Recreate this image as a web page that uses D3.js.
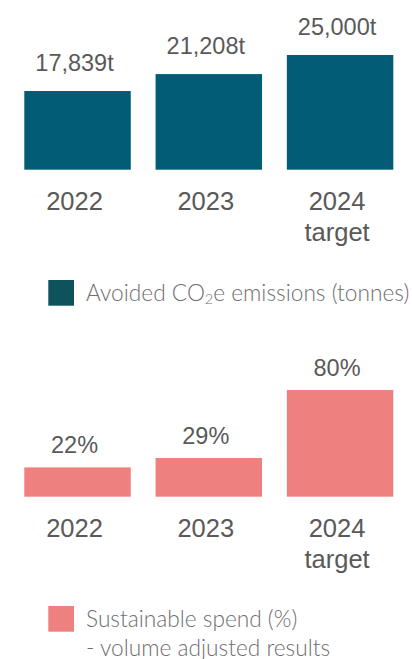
<!DOCTYPE html>
<html>
<head>
<meta charset="utf-8">
<script src="https://cdn.jsdelivr.net/npm/d3@7"></script>
<style>
  html, body { margin: 0; padding: 0; background: #ffffff; }
  svg { display: block; }
</style>
</head>
<body>
<svg id="chart" width="412" height="659"></svg>
<script>
// Categories shared by both panels
const years = ["2022", "2023", "2024"];
const yearSubLabels = ["", "", "target"];

// Avoided CO2e emissions (tonnes)
const emissionValues = [17839, 21208, 25000];
const emissionLabels = ["17,839t", "21,208t", "25,000t"];

// Sustainable spend (%)
const spendValues = [22, 29, 80];
const spendLabels = ["22%", "29%", "80%"];

const svg = d3.select("#chart");

const labelFont = "'Liberation Sans', Arial, sans-serif";
const legendFont = "Lato, 'Open Sans', sans-serif";
const labelColor = "#595959";
const legendColor = "#6e6e6e";
const legendSize = 22.7;

const x = d3.scaleBand()
  .domain(years)
  .range([24.3, 393.3])
  .paddingInner(0.189)
  .paddingOuter(0);

function panel(opts) {
  const g = svg.append("g");
  const y = d3.scaleLinear().domain(opts.domain).range([opts.baseline, opts.top]);
  const rows = years.map((yr, i) => ({ yr, v: opts.values[i], lab: opts.labels[i], sub: yearSubLabels[i] }));

  g.selectAll("rect.bar").data(rows).join("rect")
    .attr("class", "bar")
    .attr("x", d => x(d.yr))
    .attr("width", x.bandwidth())
    .attr("y", d => y(d.v))
    .attr("height", d => opts.baseline - y(d.v))
    .attr("fill", opts.color);

  const cx = d => x(d.yr) + x.bandwidth() / 2 - 3;

  g.selectAll("text.value").data(rows).join("text")
    .attr("class", "value")
    .attr("x", cx)
    .attr("y", d => y(d.v) - opts.labelGap)
    .attr("text-anchor", "middle")
    .attr("font-family", labelFont)
    .attr("font-size", 23.5)
    .attr("fill", labelColor)
    .text(d => d.lab);

  g.selectAll("text.year").data(rows).join("text")
    .attr("class", "year")
    .attr("x", cx)
    .attr("y", opts.baseline + 40.5)
    .attr("text-anchor", "middle")
    .attr("font-family", labelFont)
    .attr("font-size", 25.5)
    .attr("fill", labelColor)
    .text(d => d.yr);

  g.selectAll("text.sub").data(rows.filter(d => d.sub)).join("text")
    .attr("class", "sub")
    .attr("x", cx)
    .attr("y", opts.baseline + 71.5)
    .attr("text-anchor", "middle")
    .attr("font-family", labelFont)
    .attr("font-size", 25.5)
    .attr("fill", labelColor)
    .text(d => d.sub);

  // Legend swatch
  const lg = svg.append("g");
  lg.append("rect")
    .attr("x", 48.3).attr("y", opts.legendY)
    .attr("width", 25.7).attr("height", 25.7)
    .attr("fill", opts.legendColor);
  return lg;
}

function legendText(g, yPos) {
  return g.append("text")
    .attr("x", 86).attr("y", yPos)
    .attr("font-family", legendFont)
    .attr("font-weight", 300)
    .attr("font-size", legendSize)
    .attr("fill", legendColor);
}

// Top panel: avoided emissions
const lg1 = panel({
  values: emissionValues, labels: emissionLabels,
  domain: [2200, 25000], baseline: 169.7, top: 55,
  color: "#035c75", legendColor: "#0e525c",
  labelGap: 20, legendY: 280
});
const t1 = legendText(lg1, 301);
t1.append("tspan").text("Avoided CO");
t1.append("tspan").attr("font-size", 14.5).attr("dy", 3).text("2");
t1.append("tspan").attr("dy", -3).text("e emissions (tonnes)");

// Bottom panel: sustainable spend
const lg2 = panel({
  values: spendValues, labels: spendLabels,
  domain: [0, 80], baseline: 496.7, top: 390,
  color: "#ef8080", legendColor: "#ef8080",
  labelGap: 14, legendY: 606
});
legendText(lg2, 627).text("Sustainable spend (%)");
legendText(lg2, 656).text("- volume adjusted results");
</script>
</body>
</html>
